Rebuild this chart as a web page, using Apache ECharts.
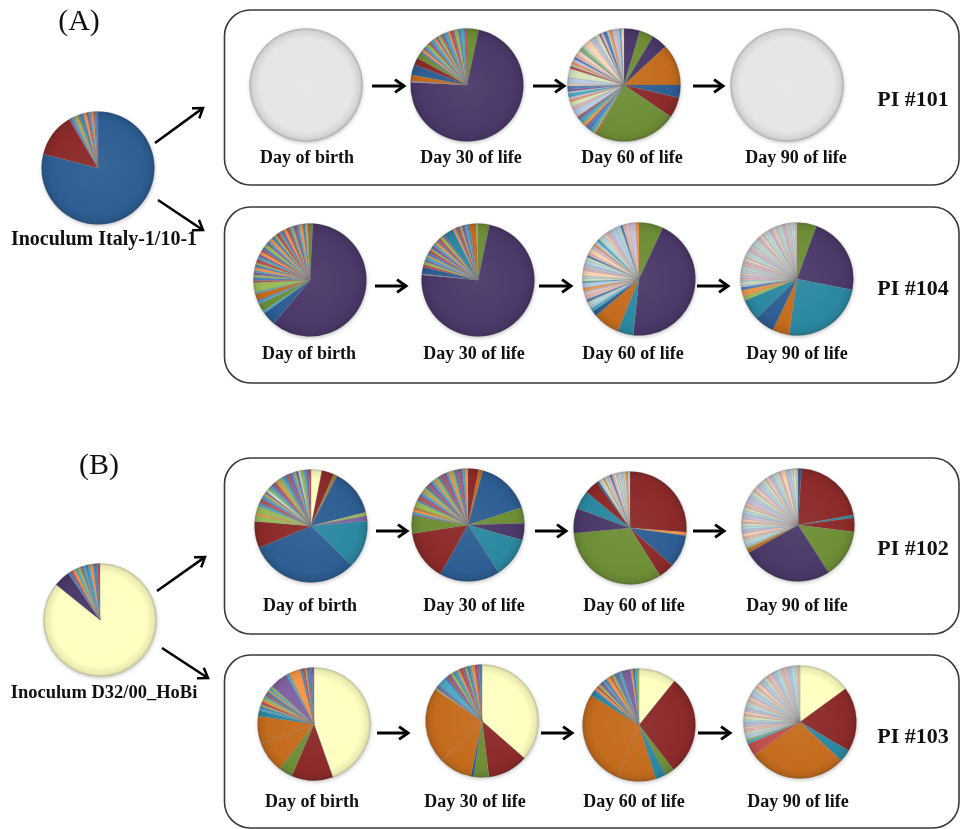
<!DOCTYPE html>
<html>
<head>
<meta charset="utf-8">
<script src="https://cdn.jsdelivr.net/npm/echarts@6/dist/echarts.min.js"></script>
<style>
  html, body { margin: 0; padding: 0; background: #ffffff; }
  #chart { width: 961px; height: 829px; }
</style>
</head>
<body>
<div id="chart"></div>
<script>
// ---------- Variant shares (%) per sample, clockwise from 12 o'clock ----------
const inoculumItaly = [79, 12.5, 0.5, 0.4, 0.7, 0.5, 0.6, 0.4, 1.2, 0.9, 0.5, 0.4, 0.6, 0.5, 0.4, 0.6, 0.3];
const inoculumHoBi  = [85.8, 4.7, 0.9, 0.6, 0.8, 0.7, 0.9, 0.6, 0.8, 0.7, 0.6, 0.9, 1.2, 0.8];

const pi101Birth = [100];
const pi101Day30 = [3.3, 71.7, 0.4, 1.7, 3.0, 2.0, 1.6,
  0.6, 0.8, 0.5, 0.7, 0.9, 0.6, 0.5, 0.8, 0.7, 0.6, 0.9, 0.5, 0.7, 1.0, 0.6, 0.8, 0.5, 1.1, 0.7, 0.9, 0.4, 0.5];
const pi101Day60 = [4.6, 4.0, 4.5, 11.9, 3.7, 5.8, 23.6,
  0.5, 0.7, 0.9, 1.2, 0.6, 0.8, 0.5, 1.0, 0.7, 0.6, 2.2, 0.9, 1.5, 0.6, 0.8, 1.1, 0.5, 0.7, 0.9, 0.6,
  1.8, 2.6, 0.8, 0.5, 0.7, 1.0, 0.6, 0.9, 1.3, 0.5, 0.8, 0.6, 2.4, 1.0, 0.7, 1.2, 0.5, 0.8, 1.1, 0.6,
  0.9, 1.4, 0.7, 0.5, 0.8];
const pi101Day90 = [100];

const pi104Birth = [0.8, 59.4, 3.9, 0.7, 2.2, 0.6, 0.5, 1.9, 0.6, 2.6,
  0.6, 0.9, 0.7, 0.8, 0.5, 0.9, 0.7, 0.6, 1.0, 0.8, 0.7, 0.9, 0.6, 0.8, 1.1, 0.7, 0.6, 0.9, 0.8, 0.7,
  1.0, 0.6, 0.8, 0.9, 0.7, 0.5, 0.8, 1.2, 0.6, 0.9, 0.7, 0.8, 0.6];
const pi104Day30 = [3.2, 71.8, 0.3, 2.0,
  0.7, 0.8, 0.6, 0.9, 0.5, 0.8, 0.7, 0.6, 0.9, 0.7, 0.8, 0.6, 0.7, 0.9, 0.6, 2.8, 0.7, 0.5, 0.8, 0.6,
  0.9, 0.7, 0.6, 1.9, 0.5];
const pi104Day60 = [6.9, 44.7, 4.5, 7.6, 1.5, 1.0,
  0.6, 0.9, 0.5, 0.8, 1.2, 0.7, 0.6, 0.9, 1.4, 0.5, 0.8, 0.7, 1.6, 0.6, 0.9, 0.5, 1.1, 0.8, 0.6, 0.7,
  1.5, 0.9, 0.6, 1.0, 0.8, 0.5, 1.3, 0.7, 0.9, 0.6, 1.8, 0.8, 0.5, 0.7, 1.0, 0.6, 2.2, 0.9];
const pi104Day90 = [5.6, 22.6, 24.2, 4.8, 5.8, 6.0, 1.2, 0.8, 1.0, 0.9,
  0.6, 0.8, 0.5, 0.7, 0.9, 0.6, 0.8, 0.5, 0.7, 1.0, 0.6, 0.8, 0.5, 0.7, 0.9, 0.6, 0.7, 0.5, 0.8, 0.6,
  0.9, 0.7, 0.5, 0.8, 0.6, 0.7, 1.0, 0.5, 0.6, 0.8, 0.7, 0.5, 0.9, 0.6, 0.7, 0.5, 0.8, 0.6, 0.7, 0.5];

const pi102Birth = [3.1, 3.5, 0.5, 0.5, 13.4, 1.0, 1.5, 13.6, 31.3, 7.6,
  1.8, 0.6, 2.0, 0.7, 0.5, 0.8, 0.6, 0.9, 0.7, 0.5, 0.8, 0.6, 0.9, 0.7, 0.8, 0.5, 0.6, 0.9, 0.7, 0.8,
  0.6, 1.0, 0.7, 0.5, 0.8, 0.6, 0.9, 0.7, 0.8, 0.6];
const pi102Day30 = [3.0, 1.2, 15.5, 4.4, 4.8, 11.3, 17.0, 14.2, 5.0,
  0.5, 0.6, 0.8, 0.5, 1.8, 0.6, 0.9, 0.7, 0.8, 0.6, 0.9, 0.7, 0.5, 1.0, 0.8, 0.6, 0.9, 0.7, 0.8, 1.1,
  0.6, 0.9, 0.7, 0.8, 0.6, 1.0, 0.7, 0.9];
const pi102Day60 = [26.2, 1.0, 9.4, 4.5, 32.5, 7.2, 5.3, 4.0, 0.6,
  0.6, 0.8, 0.5, 0.7, 0.9, 0.6, 0.5, 0.8, 0.7, 0.6, 0.9, 0.5, 0.7, 0.6];
const pi102Day90 = [1.0, 21.1, 0.8, 4.0, 13.9, 26.0, 1.0, 0.6,
  0.7, 0.9, 0.6, 0.8, 1.0, 0.7, 0.5, 0.9, 0.8, 0.6, 0.7, 1.1, 0.6, 0.8, 0.9, 0.7, 0.5, 1.6, 0.8, 0.6,
  0.9, 0.7, 0.8, 0.6, 1.0, 0.7, 0.9, 0.5, 0.8, 0.7, 0.6, 0.9, 0.8, 0.7, 1.4, 0.6, 0.8, 0.7, 0.9, 0.6];

const pi103Birth = [43.2, 11.5, 3.8, 8.6, 7.8, 1.5,
  0.6, 0.7, 0.5, 0.8, 0.6, 0.7, 0.5, 0.6, 0.8, 0.5, 0.7, 0.6, 5.0, 0.5, 0.4, 3.2, 0.6, 0.7, 0.5, 0.6,
  0.8, 0.6];
const pi103Day30 = [36.0, 11.4, 4.3, 0.8, 9.3, 21.5,
  0.5, 0.7, 0.6, 2.2, 0.8, 0.6, 0.7, 0.9, 0.5, 0.8, 0.6, 0.9, 0.7, 0.6, 0.8, 0.5, 0.9, 0.7, 0.6, 0.8];
const pi103Day60 = [10.7, 28.4, 2.6, 3.0, 10.9, 27.3, 1.5,
  0.5, 0.7, 0.6, 0.8, 0.9, 0.6, 0.7, 1.2, 0.5, 0.8, 0.6, 0.7, 0.9, 2.6, 0.6, 0.7, 0.5, 0.6];
const pi103Day90 = [14.7, 18.2, 3.4, 0.6, 27.1, 3.5, 0.8, 0.5,
  0.8, 0.6, 0.7, 0.9, 0.5, 0.8, 0.6, 0.7, 1.0, 0.6, 0.8, 0.7, 0.5, 0.9, 0.6, 0.8, 0.7, 0.6, 1.1, 0.5,
  0.8, 0.7, 0.9, 0.6, 0.8, 0.5, 0.7, 0.9, 0.6, 0.8, 0.7, 1.0, 0.6, 0.8, 0.5, 0.9, 0.7, 1.2, 0.6, 0.8];

// ---------- Text ----------
const panelLetters = ['(A)', '(B)'];
const inoculumNames = ['Inoculum Italy-1/10-1', 'Inoculum D32/00_HoBi'];
const timePoints = ['Day of birth', 'Day 30 of life', 'Day 60 of life', 'Day 90 of life'];
const animalIds = ['PI #101', 'PI #104', 'PI #102', 'PI #103'];

// ---------- Styling ----------
const COLOR = {
  B: '#2E5E93', R: '#8C2A2A', G: '#6E8E36', P: '#4B3969', A: '#2B88A1', O: '#C46C1D', Y: '#FFFFC2',
  b: '#4F81BD', r: '#C0504D', g: '#9BBB59', p: '#8064A2', a: '#4BACC6', o: '#F79646',
  '1': '#B9CDE5', '2': '#E6B9B8', '3': '#D7E4BD', '4': '#CCC1DA', '5': '#B7DEE8', '6': '#FCD5B5',
  L: '#9A8BBB', E: '#E6E6E6'
};
const R = 56.5;
const SERIF = '"Liberation Serif", "Times New Roman", serif';

function mix(hex, target, t) {
  const n = parseInt(hex.slice(1), 16);
  const c = [(n >> 16) & 255, (n >> 8) & 255, n & 255];
  const o = c.map(v => Math.round(v + (target - v) * t));
  return 'rgb(' + o.join(',') + ')';
}
// soft bevel: flat body, slightly darker rim
function shaded(hex, cx, cy) {
  return {
    type: 'radial', x: cx, y: cy, r: R, global: true,
    colorStops: [
      { offset: 0, color: mix(hex, 255, 0.05) },
      { offset: 0.82, color: hex },
      { offset: 0.95, color: mix(hex, 0, 0.08) },
      { offset: 1, color: mix(hex, 0, 0.2) }
    ]
  };
}

// Pie placement: values, leading colour codes, repeating colour codes for the remainder
const pies = [
  { v: inoculumItaly, lead: 'BR', tail: 'pbaogGbopraorbr', x: 98, y: 168 },
  { v: inoculumHoBi, lead: 'YP', tail: 'broagpabaobr', x: 100, y: 620 },

  { v: pi101Birth, lead: 'E', tail: 'E', x: 306, y: 85 },
  { v: pi101Day30, lead: 'GPLOBRG', tail: 'bopagrbaopgrbaorpgbabr', x: 467, y: 85 },
  { v: pi101Day60, lead: 'PGPOBRG', tail: 'rgabpogabr123o4a5pb613r5o4b26ag56143p2b5o41a6', x: 624, y: 85 },
  { v: pi101Day90, lead: 'E', tail: 'E', x: 787, y: 85 },

  { v: pi104Birth, lead: 'GPBaGabOag', tail: 'rbgpaobgrapo', x: 310, y: 280 },
  { v: pi104Day30, lead: 'GPLB', tail: 'rgpaobrgpaobrgpAobrgpabOg', x: 478, y: 280 },
  { v: pi104Day60, lead: 'GPAOBa', tail: '153b264o1a35624', x: 639, y: 279 },
  { v: pi104Day90, lead: 'GPAOBAgoob', tail: '135246', x: 797, y: 279 },

  { v: pi102Birth, lead: 'YRGOBgpABR', tail: 'gogabrpaob3gapr', x: 311, y: 526 },
  { v: pi102Day30, lead: 'ROBGPABRG', tail: 'paoOgbrpaogbrpaogbrpaogbrpao', x: 468, y: 525 },
  { v: pi102Day60, lead: 'RoBRGPARB', tail: '13o52b4613', x: 630, y: 528 },
  { v: pi102Day90, lead: 'BRARGPOg', tail: '153264', x: 798, y: 525 },

  { v: pi103Birth, lead: 'YRGOOA', tail: 'abgrogarboagpaaobrgpbp', x: 314, y: 724 },
  { v: pi103Day30, lead: 'YRGBOO', tail: 'gpbabrpgbaorpgbaorpb', x: 482, y: 721 },
  { v: pi103Day60, lead: 'YRGAOOA', tail: 'borgpaborgbpapobag', x: 639, y: 725 },
  { v: pi103Day90, lead: 'YRAOOrag', tail: '153264', x: 800, y: 722 }
];

function pieSeries(p) {
  return {
    type: 'pie',
    center: [p.x, p.y],
    radius: R,
    startAngle: 90,
    clockwise: true,
    silent: true,
    animation: false,
    label: { show: false },
    labelLine: { show: false },
    emphasis: { disabled: true },
    itemStyle: { borderColor: 'rgba(120,120,120,0.4)', borderWidth: 0.5 },
    data: p.v.map((val, i) => {
      const code = i < p.lead.length ? p.lead[i] : p.tail[(i - p.lead.length) % p.tail.length];
      return { value: val, itemStyle: { color: shaded(COLOR[code], p.x, p.y) } };
    })
  };
}

function arrow(x1, y1, x2, y2, w, len, spread) {
  const ang = Math.atan2(y2 - y1, x2 - x1);
  const h1 = [x2 - len * Math.cos(ang - spread), y2 - len * Math.sin(ang - spread)];
  const h2 = [x2 - len * Math.cos(ang + spread), y2 - len * Math.sin(ang + spread)];
  return {
    type: 'group',
    children: [
      { type: 'line', shape: { x1: x1, y1: y1, x2: x2 - Math.cos(ang) * 1.5, y2: y2 - Math.sin(ang) * 1.5 },
        style: { stroke: '#000', lineWidth: w } },
      { type: 'polyline', shape: { points: [h1, [x2, y2], h2] },
        style: { stroke: '#000', fill: null, lineWidth: w, lineJoin: 'miter' } }
    ]
  };
}

function text(str, x, y, size, bold) {
  return {
    type: 'text', x: x, y: y, z: 10,
    style: {
      text: str, fill: '#111', align: 'center', verticalAlign: 'middle',
      font: (bold ? 'bold ' : '') + size + 'px ' + SERIF
    }
  };
}

// Rounded panels, one per animal
const panels = [
  { y: 10, h: 175 }, { y: 207, h: 176 }, { y: 458, h: 176 }, { y: 655, h: 173 }
];
// Row layout: time-point label positions, id label, arrow heights and spans
const rows = [
  { labelY: 158, labelX: [307, 471, 632, 796], idY: 100, arrowY: 86, spans: [[372, 404], [533, 564], [693, 723]] },
  { labelY: 354, labelX: [309, 474, 633, 797], idY: 289, arrowY: 286, spans: [[375, 406], [539, 571], [697, 728]] },
  { labelY: 606, labelX: [310, 474, 634, 797], idY: 549, arrowY: 531, spans: [[376, 407], [535, 566], [693, 724]] },
  { labelY: 802, labelX: [312, 475, 634, 798], idY: 737, arrowY: 733, spans: [[377, 408], [541, 572], [698, 730]] }
];

const graphics = [];
panels.forEach(b => {
  graphics.push({
    type: 'rect', shape: { x: 224.5, y: b.y, width: 734.5, height: b.h, r: 26 },
    style: { fill: '#fff', stroke: '#3a3a3a', lineWidth: 1.6 }
  });
});
pies.forEach(p => {
  graphics.push({
    type: 'circle', shape: { cx: p.x, cy: p.y, r: R - 0.5 }, z: 1,
    style: { fill: '#d8d8d8', shadowBlur: 4, shadowOffsetX: 0.5, shadowOffsetY: 1.5, shadowColor: 'rgba(0,0,0,0.28)' }
  });
});
rows.forEach((row, i) => {
  row.labelX.forEach((lx, j) => graphics.push(text(timePoints[j], lx, row.labelY, 18, true)));
  graphics.push(text(animalIds[i], 913, row.idY, 22, true));
  row.spans.forEach(s => graphics.push(arrow(s[0], row.arrowY, s[1], row.arrowY, 3, 11, 0.62)));
});
graphics.push(text(panelLetters[0], 79, 22, 30, false));
graphics.push(text(panelLetters[1], 99, 466, 30, false));
graphics.push(text(inoculumNames[0], 104, 240, 20, true));
graphics.push(text(inoculumNames[1], 104, 693, 18.5, true));
graphics.push(arrow(155, 143, 203, 108, 2.5, 11, 0.6));
graphics.push(arrow(158, 200, 203, 230, 2.5, 11, 0.6));
graphics.push(arrow(157, 591, 205, 557, 2.5, 11, 0.6));
graphics.push(arrow(162, 648, 208, 678, 2.5, 11, 0.6));

const chart = echarts.init(document.getElementById('chart'), null, { renderer: 'canvas' });
chart.setOption({
  backgroundColor: '#ffffff',
  animation: false,
  graphic: { elements: graphics },
  series: pies.map(pieSeries)
});
</script>
</body>
</html>
